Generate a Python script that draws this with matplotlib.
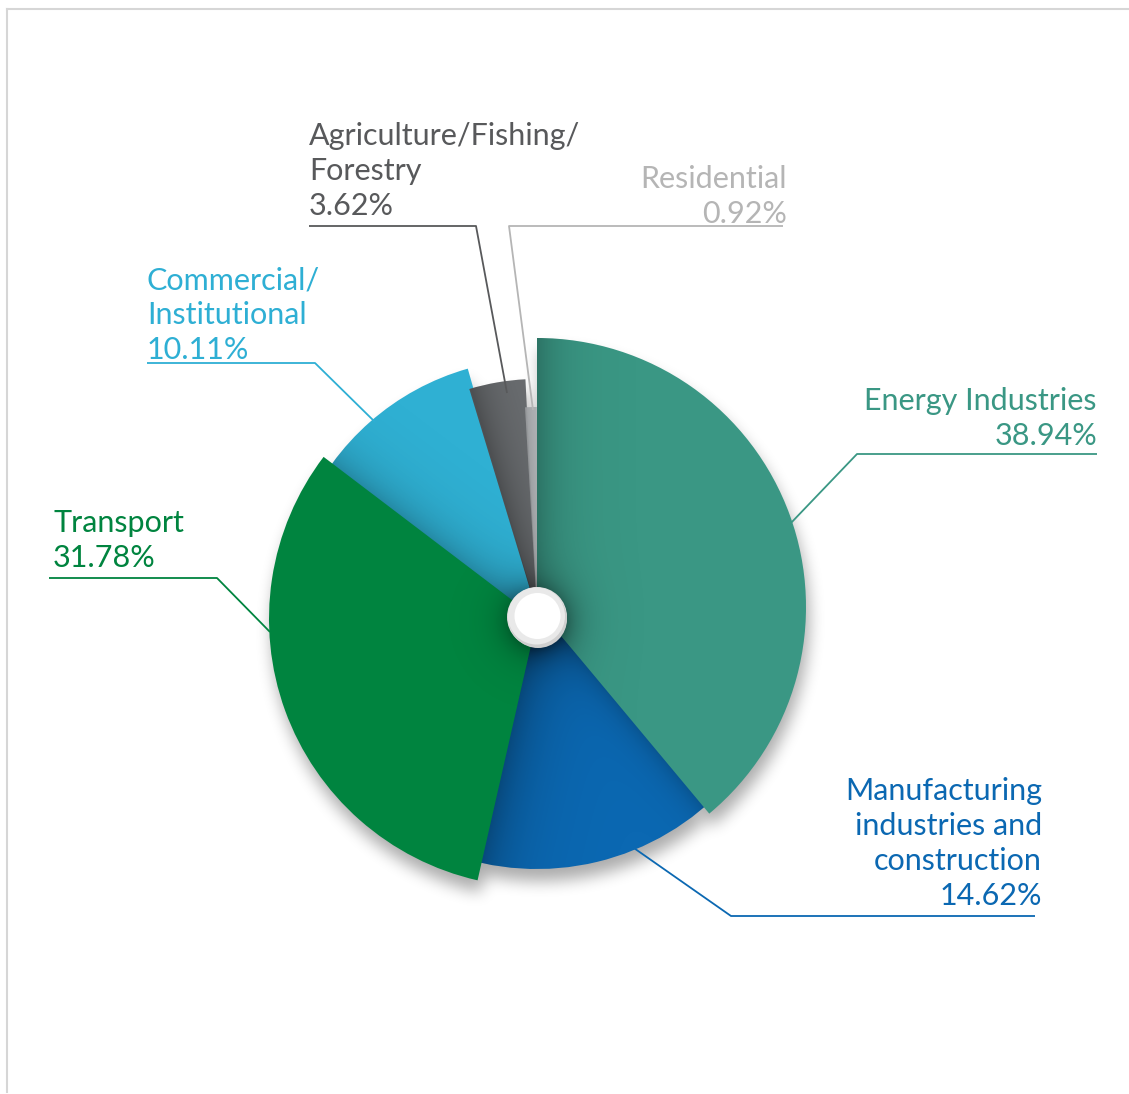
import numpy as np
import matplotlib.pyplot as plt
from matplotlib.patches import Wedge, Circle

# Emission shares by sector (%), clockwise from 12 o'clock
sectors = ["Energy Industries",
           "Manufacturing\nindustries and\nconstruction",
           "Transport",
           "Commercial/\nInstitutional",
           "Agriculture/Fishing/\nForestry",
           "Residential"]
shares = [38.94, 14.62, 31.78, 10.11, 3.62, 0.92]

colors = ["#3A9784", "#0B68B2", "#00843F", "#2FB0D3", "#6B6E71", "#B4B7BA"]
text_colors = ["#3A9784", "#0B68B2", "#00843F", "#2EAFD4", "#58595B", "#B5B5B5"]

# each slice has its own radius (pixels) and a slightly different centre
radii = [269, 257, 268, 253, 233, 205]
centres = [(537, 607), (537, 612), (537, 619), (537, 612), (537, 612), (537, 612)]
# slices drawn lower run a little under their neighbours so no gap shows
overlap = [(0, 0), (8, 8), (0, 0), (14, 0.5), (0.5, 0.5), (0, 0)]
layer = [3, 1, 4, 2, 2, 2]

W, H = 1129, 1094
plt.rcParams['font.family'] = ['Lato', 'DejaVu Sans']

fig = plt.figure(figsize=(W / 100, H / 100), dpi=100)
ax = fig.add_axes([0, 0, 1, 1])
ax.set_xlim(0, W)
ax.set_ylim(H, 0)
ax.axis('off')

# angles in degrees, clockwise from the top
ends = np.cumsum(shares) * 3.6
starts = np.concatenate([[0], ends[:-1]])

Y, X = np.mgrid[0:H, 0:W] + 0.5


def box_blur(a, r):
    # three passes of a box filter ~ gaussian
    for _ in range(3):
        for axis in (0, 1):
            p = np.pad(a, [(r + 1, r) if i == axis else (0, 0) for i in (0, 1)], mode='edge')
            c = np.cumsum(p, axis=axis)
            if axis == 0:
                a = (c[2 * r + 1:] - c[:-2 * r - 1]) / (2 * r + 1)
            else:
                a = (c[:, 2 * r + 1:] - c[:, :-2 * r - 1]) / (2 * r + 1)
    return a


def wedge_mask(c, r, a1, a2, dx=0, dy=0):
    ddx = X - c[0] - dx
    ddy = Y - c[1] - dy
    phi = np.degrees(np.arctan2(ddx, -ddy)) % 360
    return (np.hypot(ddx, ddy) <= r) & (phi >= a1) & (phi < a2)


def dark_layer(alpha, zorder, clip=None):
    rgba = np.zeros((H, W, 4))
    rgba[..., 3] = np.clip(alpha, 0, 1)
    im = ax.imshow(rgba, extent=(0, W, H, 0), origin='upper', zorder=zorder,
                   interpolation='bilinear')
    if clip is not None:
        im.set_clip_path(clip)
    return im


# soft drop shadow under the whole pie
union = np.zeros((H, W))
for i in range(len(shares)):
    union = np.maximum(union, wedge_mask(centres[i], radii[i], starts[i], ends[i], 3, 12))
dark_layer(box_blur(union.astype(float), 7) * 0.33, 0.5)

patches = []
for i in range(len(shares)):
    a1 = starts[i] - overlap[i][0]
    a2 = ends[i] + overlap[i][1]
    w = Wedge(centres[i], radii[i], a1 - 90, a2 - 90,
              facecolor=colors[i], edgecolor='none', zorder=layer[i])
    ax.add_patch(w)
    patches.append(w)


def edge_shade(edge_angle, width, strength, c=(537, 612)):
    # darkening that fades away from a slice edge (a ray from c)
    a = np.radians(edge_angle)
    ux, uy = np.sin(a), -np.cos(a)
    d = np.abs((X - c[0]) * uy - (Y - c[1]) * ux)
    return strength * np.exp(-d / width)


hole = (537, 617)
rr = np.hypot(X - hole[0], Y - hole[1] - 4)
hole_shadow = 0.35 * np.exp(-np.clip(rr - 28, 0, None) / 14)

# inner shading along the slice edges, cast by the slice lying on top
shades = [
    (0, edge_shade(0, 24, 0.24, centres[0])),
    (1, edge_shade(ends[1], 30, 0.30, centres[2]) + edge_shade(ends[0], 14, 0.18, centres[0])),
    (2, 0 * X),
    (3, edge_shade(ends[2], 22, 0.22, centres[2])),
    (4, edge_shade(ends[3], 22, 0.28)),
    (5, edge_shade(ends[4], 8, 0.15)),
]
for i, s in shades:
    dark_layer(s + hole_shadow * (0.8 if i == 2 else 1.0), layer[i] + 0.5, patches[i])

# centre button
ax.add_patch(Circle(hole, 30, facecolor="#DEDEDE", edgecolor='none', zorder=5))
ax.add_patch(Circle((hole[0] + 1, hole[1] + 2), 29, facecolor="#CFCFCF", edgecolor='none', zorder=5))
ax.add_patch(Circle((hole[0] - 0.5, hole[1] - 1), 28.5, facecolor="#E9E9E9", edgecolor='none', zorder=5))
ax.add_patch(Circle((hole[0] + 0.5, hole[1] - 1), 23, facecolor="white", edgecolor='none', zorder=6))

# labels: anchor x, last baseline y, alignment, leader polyline
label_pos = [
    (1097, 445, 'right', [(1097, 454), (857, 454), (790, 524)]),
    (1042, 905, 'right', [(1035, 916), (731, 916), (631, 846)]),
    (53, 567, 'left', [(49, 578), (217, 578), (270, 632)]),
    (147, 359, 'left', [(147, 363), (315, 363), (375, 422)]),
    (309, 215, 'left', [(309, 226), (476, 226), (507, 393)]),
    (787, 223, 'right', [(783, 226), (509, 226), (533, 410)]),
]
for i, (x, y, ha, pts) in enumerate(label_pos):
    ax.text(x, y, f"{sectors[i]}\n{shares[i]:.2f}%", ha=ha, va='baseline',
            multialignment=ha, fontsize=22, color=text_colors[i],
            linespacing=1.3, zorder=8)
    px, py = zip(*pts)
    ax.plot(px, py, color=text_colors[i], lw=1.3, zorder=7, solid_capstyle='butt')

# thin frame on top and left
ax.plot([7, W], [9, 9], color="#D6D6D6", lw=1.5, zorder=9)
ax.plot([7, 7], [9, 1092], color="#D6D6D6", lw=1.5, zorder=9)

fig.savefig("out.png", dpi=100)
